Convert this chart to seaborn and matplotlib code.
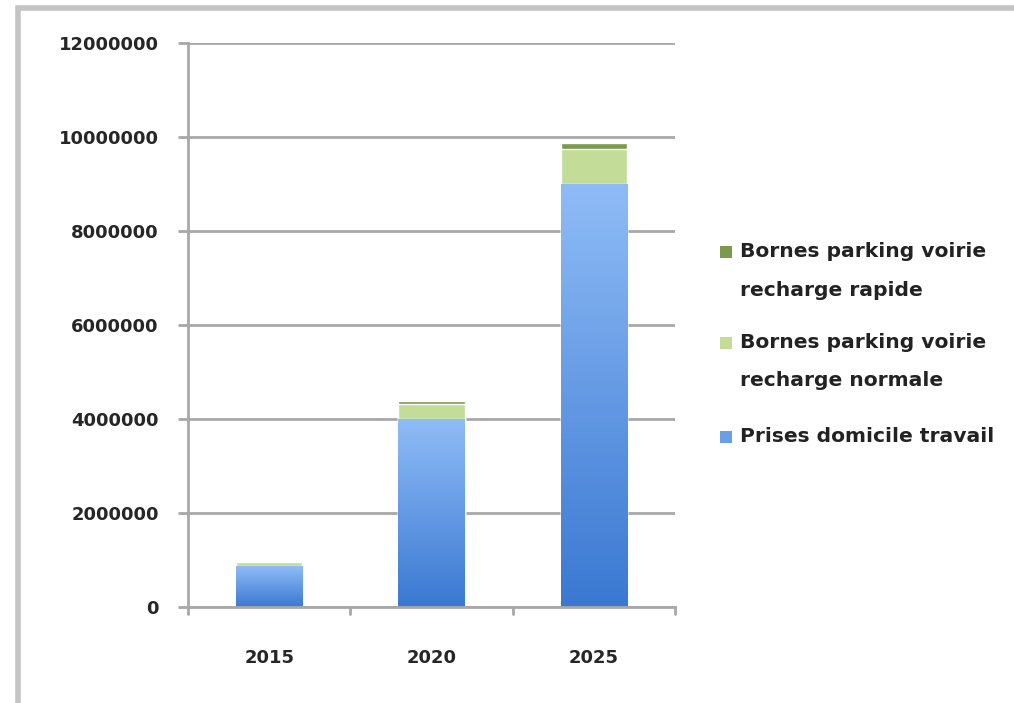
import matplotlib
matplotlib.use("Agg")
import matplotlib.pyplot as plt
import seaborn as sns
import numpy as np
import pandas as pd
from matplotlib.patches import Rectangle
from matplotlib.colors import LinearSegmentedColormap

years = ["2015", "2020", "2025"]
prises = [870000, 4000000, 9000000]
normale = [80000, 310000, 740000]
rapide = [30000, 80000, 130000]
labels = ["Bornes parking voirie\nrecharge rapide",
          "Bornes parking voirie\nrecharge normale",
          "Prises domicile travail"]
yticks = [0, 2000000, 4000000, 6000000, 8000000, 10000000, 12000000]

c_rapide = "#7a9a4c"
c_normale = "#c3dc98"
c_blue_top = "#8fbcf6"
c_blue_bot = "#3a78d2"
c_legend_blue = "#6a9fe6"

sns.set_style("white")
plt.rcParams["font.family"] = ["DejaVu Sans"]

df = pd.DataFrame({"year": years, "prises": prises, "normale": normale, "rapide": rapide})
df["t1"] = df["prises"]
df["t2"] = df["prises"] + df["normale"]
df["t3"] = df["t2"] + df["rapide"]

W, H = 1014, 703
fig = plt.figure(figsize=(W / 100, H / 100), dpi=100)
ax = fig.add_axes([0.1854, 0.1366, 0.4803, 0.8022])

sns.barplot(data=df, x="year", y="t3", color=c_rapide, width=0.41, ax=ax, saturation=1)
sns.barplot(data=df, x="year", y="t2", color=c_normale, width=0.41, ax=ax, saturation=1)
sns.barplot(data=df, x="year", y="t1", color=c_blue_bot, width=0.41, ax=ax, saturation=1)

# gradient overlay for the blue bars
cmap = LinearSegmentedColormap.from_list("b", [c_blue_bot, c_blue_top])
grad = np.linspace(0, 1, 256).reshape(-1, 1)
blue_patches = ax.patches[6:9]
for p in blue_patches:
    x0, y0 = p.get_x(), p.get_y()
    w, h = p.get_width(), p.get_height()
    im = ax.imshow(grad, cmap=cmap, origin="lower", aspect="auto",
                   extent=[x0, x0 + w, y0, y0 + h], zorder=p.get_zorder() + 0.1)
    im.set_clip_path(p)

ax.set_xlim(-0.5, 2.5)
ax.set_ylim(0, 12000000)
ax.set_yticks(yticks)
ax.set_yticklabels([str(v) for v in yticks], fontsize=13, fontweight="bold")
ax.set_xticks([0, 1, 2])
ax.set_xticklabels(years, fontsize=13, fontweight="bold")
ax.set_xlabel("")
ax.set_ylabel("")

ax.yaxis.grid(True, color="#a8a8a8", linewidth=2)
ax.set_axisbelow(True)
for s in ["top", "right"]:
    ax.spines[s].set_visible(False)
for s in ["left", "bottom"]:
    ax.spines[s].set_color("#a8a8a8")
    ax.spines[s].set_linewidth(2)
ax.tick_params(axis="y", length=7, width=2, color="#a8a8a8", pad=14, direction="out", left=True)
ax.tick_params(axis="x", length=0, pad=30, bottom=False)
for xb in [-0.5, 0.5, 1.5, 2.5]:
    ax.plot([xb, xb], [0, -0.012], transform=ax.get_xaxis_transform(),
            color="#a8a8a8", lw=2, clip_on=False)

# legend drawn manually (pixel positions of first line of each entry)
leg_colors = [c_rapide, c_normale, c_legend_blue]
leg_y = [252, 343, 437]
line_gap = 38
for col, lab, yy in zip(leg_colors, labels, leg_y):
    fig.patches.append(Rectangle((720 / W, 1 - (yy + 6) / H), 12 / W, 12 / H,
                                 transform=fig.transFigure, facecolor=col, edgecolor="none"))
    for i, line in enumerate(lab.split("\n")):
        fig.text(740 / W, 1 - (yy + i * line_gap) / H, line, fontsize=14.6,
                 fontweight="bold", color="#222222", va="center", ha="left")

# outer frame
fig.patches.append(Rectangle((18 / W, -0.02), 1.1, 1 - 8 / H + 0.02, transform=fig.transFigure,
                             fill=False, edgecolor="#c4c4c4", linewidth=4))

fig.savefig("out.png", dpi=100)
